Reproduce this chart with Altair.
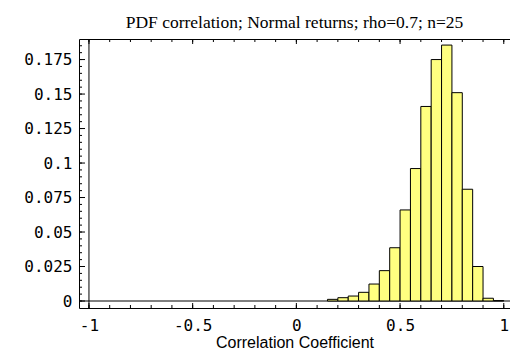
import altair as alt
import pandas as pd

# Histogram of the sample correlation coefficient (bin width 0.05)
bin_lo = [0.15, 0.20, 0.25, 0.30, 0.35, 0.40, 0.45, 0.50, 0.55,
          0.60, 0.65, 0.70, 0.75, 0.80, 0.85, 0.90, 0.95]
bin_hi = [0.20, 0.25, 0.30, 0.35, 0.40, 0.45, 0.50, 0.55, 0.60,
          0.65, 0.70, 0.75, 0.80, 0.85, 0.90, 0.95, 1.00]
freq = [0.0012, 0.0024, 0.0036, 0.0063, 0.0123, 0.022, 0.0386, 0.066, 0.096,
        0.141, 0.175, 0.1855, 0.151, 0.081, 0.025, 0.002, 0.0003]

x_labels = [-1, -0.5, 0, 0.5, 1]
y_labels = [0, 0.025, 0.05, 0.075, 0.1, 0.125, 0.15, 0.175]

# frame tick positions
x_minor = [round(-1 + 0.1 * i, 2) for i in range(21)]
y_minor = [round(0.005 * i, 3) for i in range(38)]

W, H = 431, 269
x_scale = alt.Scale(domain=[-1.048, 1.03], nice=False, zero=False)
y_scale = alt.Scale(domain=[-0.00507, 0.1899], nice=False, zero=False)

# one shared axis definition per channel, used by every layer
x_axis = alt.Axis(values=x_labels, labelExpr="'' + datum.value",
                  tickSize=0, domain=False, grid=False, labelPadding=9,
                  labelOverlap=False,
                  title="Correlation Coefficient", titlePadding=1)
y_axis = alt.Axis(values=y_labels, labelExpr="'' + datum.value",
                  tickSize=0, domain=False, grid=False, labelPadding=7,
                  labelOverlap=False, title=None)

bars_df = pd.DataFrame({"lo": bin_lo, "hi": bin_hi, "freq": freq, "base": [0.0] * len(freq)})

bars = alt.Chart(bars_df).mark_rect(
    fill="#FFFF80", stroke="black", strokeWidth=1
).encode(
    x=alt.X("lo:Q", scale=x_scale, axis=x_axis, title="Correlation Coefficient"),
    x2="hi:Q",
    y=alt.Y("base:Q", scale=y_scale, axis=y_axis),
    y2="freq:Q",
)

xt = pd.DataFrame({"v": x_minor})
xt_major = pd.DataFrame({"v": x_labels})
yt = pd.DataFrame({"v": y_minor})
yt_major = pd.DataFrame({"v": y_labels})


def xpos():
    return alt.X("v:Q", scale=x_scale, axis=x_axis, title="Correlation Coefficient")


def ypos():
    return alt.Y("v:Q", scale=y_scale, axis=y_axis)


bottom_ticks = alt.Chart(xt).mark_rule(color="black", strokeWidth=1).encode(
    x=xpos(), y=alt.value(H), y2=alt.value(H - 3))
bottom_major = alt.Chart(xt_major).mark_rule(color="black", strokeWidth=1).encode(
    x=xpos(), y=alt.value(H), y2=alt.value(H - 5))
top_ticks = alt.Chart(xt).mark_rule(color="black", strokeWidth=1).encode(
    x=xpos(), y=alt.value(0), y2=alt.value(3))
top_major = alt.Chart(xt_major).mark_rule(color="black", strokeWidth=1).encode(
    x=xpos(), y=alt.value(0), y2=alt.value(5))
left_ticks = alt.Chart(yt).mark_rule(color="black", strokeWidth=1).encode(
    y=ypos(), x=alt.value(0), x2=alt.value(3))
left_major = alt.Chart(yt_major).mark_rule(color="black", strokeWidth=1).encode(
    y=ypos(), x=alt.value(0), x2=alt.value(6))

# axis lines crossing at (-1, 0)
h_axis = alt.Chart(pd.DataFrame({"v": [0.0]})).mark_rule(color="black", strokeWidth=1).encode(
    y=ypos(), x=alt.value(0), x2=alt.value(W))
v_axis = alt.Chart(pd.DataFrame({"v": [-1.0]})).mark_rule(color="black", strokeWidth=1).encode(
    x=xpos(), y=alt.value(0), y2=alt.value(H))

chart = alt.layer(
    h_axis, bars, v_axis, bottom_ticks, bottom_major, top_ticks, top_major,
    left_ticks, left_major
).properties(
    width=W, height=H,
    title=alt.TitleParams(
        "PDF correlation; Normal returns; rho=0.7; n=25",
        font="Liberation Serif", fontSize=17.5, fontWeight="normal",
        color="black", anchor="middle", baseline="alphabetic", offset=10, dy=17),
    autosize=alt.AutoSizeParams(type="none"),
    padding={"left": 79, "top": 39, "right": 0, "bottom": 41},
    background="white",
).configure_view(
    stroke="black", strokeWidth=1
).configure_axis(
    labelFont="DejaVu Sans Mono", labelFontSize=16, labelColor="black",
    titleFont="Liberation Sans", titleFontSize=16, titleFontWeight="normal",
    titleColor="black"
)

chart.save("out.html", embed_options={"renderer": "svg", "actions": False})
